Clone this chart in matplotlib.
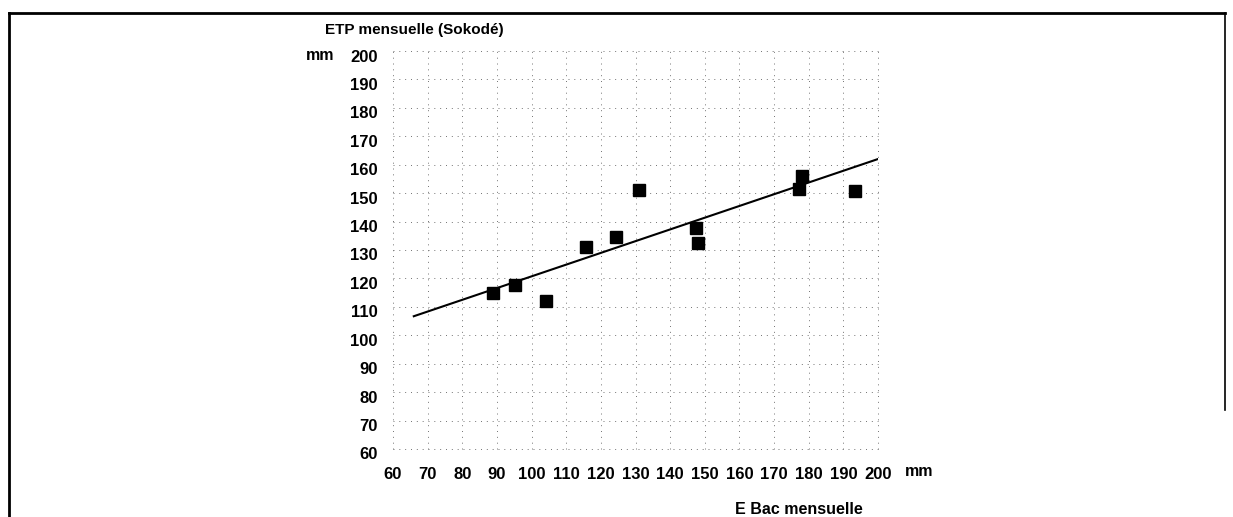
import numpy as np
import matplotlib
matplotlib.use('Agg')
import matplotlib.pyplot as plt
from matplotlib.lines import Line2D
from matplotlib.transforms import ScaledTranslation


# data
etp_bac = [89.0, 95.2, 104.2, 115.6, 124.3, 130.9, 147.4, 148.0, 178.0, 177.3, 193.4]
etp_sokode = [115.0, 117.6, 112.1, 131.2, 134.4, 151.1, 137.8, 132.3, 156.1, 151.3, 150.7]

# trend line end points as drawn
trend_x = [66.0, 200.0]
trend_y = [106.7, 162.0]

ticks = list(range(60, 201, 10))

W, H = 1233, 517


def fx(px):
    return px / W


def fy(py):
    return 1 - py / H


def main():
    plt.rcParams['font.family'] = ['Liberation Sans', 'DejaVu Sans']
    fig = plt.figure(figsize=(W / 100, H / 100), dpi=100)
    ax = fig.add_axes([fx(393), fy(449), fx(878) - fx(393), fy(51) - fy(449)])

    ax.set_xlim(60, 200)
    ax.set_ylim(60, 200)
    ax.set_xticks(ticks)
    ax.set_yticks(ticks)
    ax.set_xticklabels([str(t) for t in ticks], fontsize=12, fontweight='bold')
    ax.set_yticklabels([str(t) for t in ticks], fontsize=12, fontweight='bold')
    ax.tick_params(length=0)
    ax.tick_params(axis='x', pad=13)
    ax.tick_params(axis='y', pad=11)
    # y labels sit a little below their grid lines in the scan
    shift = ScaledTranslation(0, -4.5 / 100, fig.dpi_scale_trans)
    for lab in ax.get_yticklabels():
        lab.set_transform(lab.get_transform() + shift)
    for s in ax.spines.values():
        s.set_visible(False)

    # dotted grid, edges included
    for t in ticks:
        ax.axhline(t, color='0.45', lw=0.7, dashes=(1, 5), zorder=1, clip_on=False)
        ax.axvline(t, color='0.45', lw=0.7, dashes=(1, 5), zorder=1, clip_on=False)

    ax.plot(trend_x, trend_y, color='black', lw=1.5, zorder=2)
    ax.plot(etp_bac, etp_sokode, 's', color='black', ms=8, zorder=3)

    # labels
    fig.text(fx(325), fy(30), 'ETP mensuelle (Sokodé)', fontsize=11,
             fontweight='bold', ha='left', va='center')
    fig.text(fx(320), fy(55), 'mm', fontsize=11.5, fontweight='bold',
             ha='center', va='center')
    fig.text(fx(905), fy(472), 'mm', fontsize=11.5, fontweight='bold',
             ha='left', va='center')
    fig.text(fx(799), fy(509), 'E Bac mensuelle', fontsize=11.5,
             fontweight='bold', ha='center', va='center')

    # frame of the scanned page
    fig.add_artist(Line2D([fx(9), fx(1225)], [fy(13), fy(13)], color='black', lw=2))
    fig.add_artist(Line2D([fx(9), fx(9)], [fy(13), 0], color='black', lw=2))
    fig.add_artist(Line2D([fx(1225), fx(1225)], [fy(13), fy(410)], color='black', lw=1.2))

    fig.savefig('out.png', dpi=100)


if __name__ == '__main__':
    main()
